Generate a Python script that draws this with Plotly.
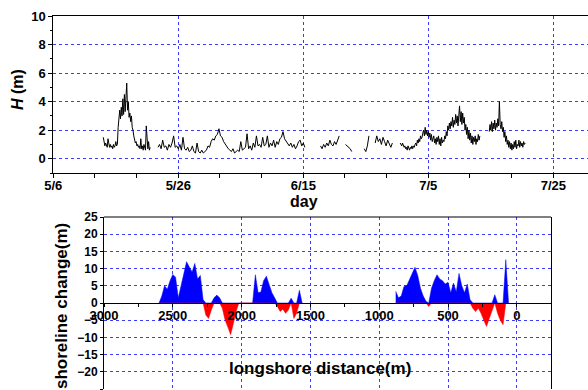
import plotly.graph_objects as go

# ---------------- top panel: wave height H (m) ----------------
# segment start (days after 5/6), sampling step (days) and values
H_starts = [8.0, 16.75, 42.75, 46.75, 49.75, 51.5, 55.5, 69.75]
H_steps = [0.125, 0.25, 0.25, 0.25, 0.25, 0.25, 0.125, 0.125]
H_seg1 = [1.5, 1.0, 0.9, 1.1, 1.0, 0.8, 1.4, 0.9, 0.8, 1.0, 0.8, 0.9, 0.7, 1.0, 0.8, 0.9,
          1.2, 0.9, 1.0, 2.2, 2.9, 3.4, 2.8, 3.6, 3.0, 4.2, 3.1, 4.5, 3.3, 4.8, 5.3, 3.4,
          4.0, 2.9, 3.2, 2.6, 3.0, 2.2, 2.0, 1.6, 1.3, 1.1, 1.2, 0.9, 1.0, 0.8, 0.9, 0.7,
          1.4, 0.7, 0.9, 0.6, 1.0, 0.7, 0.6, 2.3, 0.8, 0.7, 1.2, 0.6, 0.8]
H_seg2 = [0.8, 1.0, 0.7, 1.3, 0.8, 0.9, 0.6, 1.0, 0.8, 1.1, 1.6, 0.8, 0.9, 0.7, 1.0, 0.6,
          1.5, 0.7, 0.6, 0.8, 0.5, 0.6, 0.9, 0.5, 0.4, 1.1, 0.5, 0.4, 0.6, 0.4, 0.5, 0.6,
          0.9, 0.8, 1.2, 1.4, 1.3, 1.6, 1.7, 2.1, 1.6, 1.5, 1.2, 1.0, 0.8, 0.7, 0.6, 0.5,
          0.7, 0.4, 0.5, 0.6, 0.5, 1.2, 0.6, 0.7, 0.8, 1.75, 0.7, 0.9, 0.6, 1.1, 0.8, 1.6,
          0.9, 1.0, 0.8, 1.5, 0.9, 1.0, 1.6, 0.8, 1.1, 0.9, 1.3, 0.8, 1.2, 1.0, 1.4, 1.5,
          1.9, 1.4, 1.2, 1.0, 0.9, 1.1, 0.8, 1.0, 0.7, 0.9, 1.2, 1.3, 0.9, 1.1, 0.8]
H_seg3 = [0.9, 0.7, 1.0, 0.8, 1.1, 0.9, 1.3, 1.0, 0.9, 1.2, 1.0, 1.4, 1.6]
H_seg4 = [1.0, 0.9, 0.8, 0.7, 0.5]
H_seg5 = [0.7, 0.5, 0.9, 1.6]
H_seg6 = [1.1, 1.6, 1.2, 1.4, 1.0, 1.5, 1.2, 0.9, 1.3, 1.0, 0.8, 1.1]
H_seg7 = [1.1, 1.0, 0.9, 1.1, 1.0, 0.8, 0.9, 0.7,
          0.8, 0.6, 0.9, 0.7, 0.6, 0.8, 0.7, 0.9,
          0.7, 0.9, 0.8, 1.0, 1.1, 0.9, 1.3, 1.1,
          1.4, 1.2, 1.6, 1.4, 1.5, 1.8, 2.0, 1.6,
          2.2, 1.7, 2.0, 1.6, 1.9, 1.5, 1.8, 1.3,
          1.7, 1.2, 1.5, 1.6, 1.1, 1.4, 1.0, 1.5,
          1.2, 1.6, 1.0, 1.4, 0.9, 1.5, 1.1, 1.3,
          1.2, 1.6, 1.4, 1.9, 1.6, 2.3, 2.0, 2.5,
          2.1, 2.6, 2.3, 2.9, 2.2, 2.7, 2.4, 3.1,
          2.5, 3.0, 2.3, 3.3, 3.7, 2.6, 3.3, 2.4,
          3.2, 2.5, 2.9, 2.0, 2.4, 1.7, 2.2, 1.4,
          2.0, 1.3, 1.8, 1.1, 1.6, 1.0, 1.5, 1.2,
          1.6, 1.0, 1.4, 1.2, 1.7, 1.3, 1.6]
H_seg8 = [1.9, 2.4, 2.0, 2.6, 1.9, 2.5, 2.1, 2.7,
          2.0, 2.5, 2.2, 2.8, 2.3, 4.0, 2.4, 2.1,
          2.6, 1.9, 2.2, 1.5, 1.9, 1.2, 1.6, 1.0,
          1.3, 0.8, 1.2, 0.7, 1.1, 0.6, 1.0, 0.7,
          1.2, 0.8, 1.3, 0.7, 1.0, 0.9, 1.3, 0.8,
          1.2, 0.9, 1.1, 0.8, 1.2, 1.0, 1.1]
H_segments = [H_seg1, H_seg2, H_seg3, H_seg4, H_seg5, H_seg6, H_seg7, H_seg8]

day_ticks = [0, 20, 40, 60, 80]
day_labels = ["5/6", "5/26", "6/15", "7/5", "7/25"]

# ---------------- bottom panel: shoreline change (m) every 20 m ----------------
shore_starts = [2600, 880]
shore_segA = [0.0, 2.0, 5.0, 4.0, 6.5, 8.3, 7.5, 1.5, 5.0, 9.0,
              12.0, 10.5, 9.0, 11.5, 7.0, 8.0, 1.0, -3.5, -4.5, -2.0,
              1.5, 2.3, 1.5, -1.5, -5.0, -7.0, -9.2, -6.0, -2.5, 0.0,
              0.0, 0.0, 0.0, 0.0, 0.0, 8.2, 3.0, 3.2, 6.5, 7.8,
              5.5, 3.0, 1.5, -1.0, -2.5, -1.8, -3.0, -2.0, 1.4, -4.5,
              -3.0, 3.7, 0.0]
shore_segB = [3.4, 1.5, 2.0, 4.8, 5.0, 7.0, 8.5, 10.4, 8.0, 4.3,
              2.0, 0.5, -1.0, 4.3, 6.5, 8.2, 7.0, 6.5, 5.5, 6.0,
              3.0, 5.8, 3.2, 8.6, 5.0, 3.0, 5.5, 1.0, -1.5, -2.5,
              -1.5, -3.0, -5.0, -6.8, -4.5, -2.0, 2.4, -3.0, -5.0, -6.3,
              12.6, 0.0]
shore_segments = [shore_segA, shore_segB]
shore_step = 20

W, HGT = 588, 390
BLUE_GRID = "#3b3bff"

fig = go.Figure()

for start, step, vals in zip(H_starts, H_steps, H_segments):
    xs = [start + step * i for i in range(len(vals))]
    fig.add_trace(go.Scatter(x=xs, y=vals, mode="lines",
                             line=dict(color="black", width=1),
                             xaxis="x", yaxis="y", hoverinfo="skip"))

for start, vals in zip(shore_starts, shore_segments):
    xs = [start - shore_step * i for i in range(len(vals))]
    pos = [max(v, 0.0) for v in vals]
    neg = [min(v, 0.0) for v in vals]
    fig.add_trace(go.Scatter(x=xs, y=pos, mode="lines", fill="tozeroy",
                             fillcolor="#0000ff", line=dict(color="#0000ff", width=0.5),
                             xaxis="x2", yaxis="y2", hoverinfo="skip"))
    fig.add_trace(go.Scatter(x=xs, y=neg, mode="lines", fill="tozeroy",
                             fillcolor="#ff0000", line=dict(color="#ff0000", width=0.5),
                             xaxis="x2", yaxis="y2", hoverinfo="skip"))

top_dom_y = [(HGT - 173) / HGT, (HGT - 16) / HGT]
bot_dom_y = [(HGT - 389) / HGT, (HGT - 217) / HGT]
bold_tick = dict(family="Liberation Sans, Arial, sans-serif", size=13, color="black", weight="bold")
bold_tick12 = dict(family="Liberation Sans, Arial, sans-serif", size=12, color="black", weight="bold")

minor_days = []
for t in day_ticks:
    minor_days += [t + 20 / 3, t + 40 / 3]

fig.update_layout(
    width=W, height=HGT, margin=dict(l=0, r=0, t=0, b=0, pad=0, autoexpand=False),
    paper_bgcolor="white", plot_bgcolor="white", showlegend=False,
    xaxis=dict(domain=[53.3 / W, 1.0], range=[0, 85.55], anchor="y", automargin=False,
               tickmode="array", tickvals=day_ticks, ticktext=day_labels,
               ticks="outside", ticklen=4, tickcolor="black", tickfont=bold_tick,
               ticklabelstandoff=-4,
               showline=True, linecolor="black", linewidth=1, mirror=True,
               showgrid=True, gridcolor=BLUE_GRID, griddash="dot", gridwidth=1,
               zeroline=False,
               minor=dict(tickmode="array", tickvals=minor_days, ticks="outside",
                          ticklen=4, tickcolor="black", showgrid=False)),
    yaxis=dict(domain=top_dom_y, range=[-1, 10], anchor="x", automargin=False,
               tickmode="array", tickvals=[0, 2, 4, 6, 8, 10],
               ticks="outside", ticklen=4, tickcolor="black", tickfont=bold_tick,
               showline=True, linecolor="black", linewidth=1, mirror=True,
               showgrid=True, gridcolor=BLUE_GRID, griddash="dot", gridwidth=1,
               zeroline=False,
               minor=dict(dtick=1, tick0=0, ticks="outside", ticklen=2,
                          tickcolor="black", showgrid=False)),
    xaxis2=dict(domain=[104 / W, 551 / W], range=[3000, -248.5], anchor="free",
                automargin=False,
                position=(bot_dom_y[0] + bot_dom_y[1]) / 2,
                tickmode="linear", tick0=0, dtick=500,
                ticks="outside", ticklen=3, tickcolor="black", tickfont=bold_tick,
                ticklabelstandoff=-3,
                showline=True, linecolor="black", linewidth=1,
                showgrid=True, gridcolor=BLUE_GRID, griddash="dot", gridwidth=1,
                zeroline=False,
                minor=dict(dtick=250, tick0=0, ticks="outside", ticklen=3,
                           tickcolor="black", showgrid=False)),
    yaxis2=dict(domain=bot_dom_y, range=[-25, 25], anchor="x2", automargin=False,
                tickmode="linear", tick0=0, dtick=5,
                ticks="outside", ticklen=3, tickcolor="black", tickfont=bold_tick12,
                showline=True, linecolor="black", linewidth=1, mirror=True,
                showgrid=True, gridcolor=BLUE_GRID, griddash="dot", gridwidth=1,
                zeroline=False),
)

fig.add_shape(type="line", xref="x2 domain", yref="y2 domain", x0=0, x1=1, y0=1, y1=1,
              line=dict(color="black", width=1))

title_font = dict(family="Liberation Sans, Arial, sans-serif", color="black")
ann_common = dict(xref="paper", yref="paper", showarrow=False,
                  xanchor="center", yanchor="middle")
fig.add_annotation(text="<b><i>H</i> (m)</b>", x=18 / W, y=(HGT - 90) / HGT,
                   textangle=-90, font=dict(size=16, **title_font), **ann_common)
fig.add_annotation(text="<b>day</b>", x=304 / W, y=(HGT - 202) / HGT,
                   font=dict(size=16, **title_font), **ann_common)
fig.add_annotation(text="<b>shoreline change(m)</b>", x=61 / W, y=(HGT - 306) / HGT,
                   textangle=-90, font=dict(size=17, **title_font), **ann_common)
fig.add_annotation(text="<b>longshore distance(m)</b>", x=320 / W, y=(HGT - 368) / HGT,
                   font=dict(size=17, **title_font), **ann_common)

fig.write_html("out.html", config={"displayModeBar": False},
               post_script="document.body.style.margin='0px';")
